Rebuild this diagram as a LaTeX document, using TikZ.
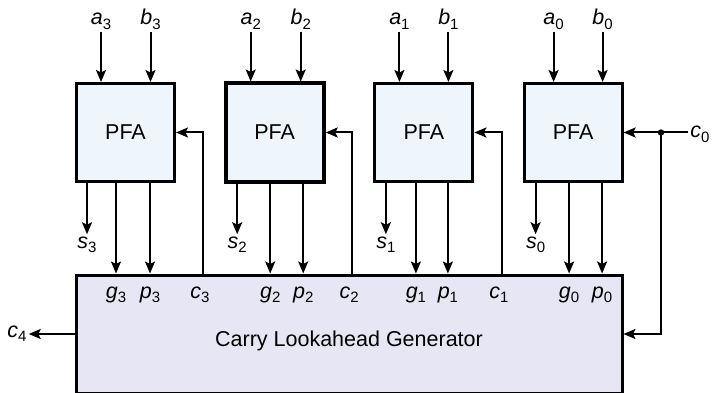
\documentclass[tikz,border=0pt]{standalone}
\usepackage{fontspec}
\setmainfont{Liberation Sans}
\usetikzlibrary{
  arrows.meta, % Stealth 箭头
  positioning  % 节点相对定位
}
\definecolor{pfafill}{HTML}{EEF5FB} % PFA 方框底色
\definecolor{clgfill}{HTML}{E6E6F5} % 超前进位生成器底色
\newcommand{\sigl}[2]{\textit{#1}\raisebox{-4.5pt}{\fontsize{15}{15}\selectfont #2}} % 斜体信号名加下标
\tikzset{
  pfa/.style={draw, fill=pfafill, line width=3pt, minimum width=98pt, minimum height=98pt, inner sep=0pt},
  clgbox/.style={draw, fill=clgfill, line width=3pt, minimum width=546pt, minimum height=118pt, inner sep=0pt},
  sigline/.style={line width=2pt},
  lbl/.style={inner sep=2pt, anchor=base}
}

\begin{document}
\begin{tikzpicture}[x=1pt, y=-1pt, >={Stealth[length=12pt, width=10pt, inset=2.5pt]}, font=\fontsize{21.5}{25}\selectfont] % 以像素为单位，y 轴向下
  \useasboundingbox (0,0) rectangle (712,393); % 固定画面大小

  % 超前进位生成器
  \node[clgbox] (clg) at (349,334) {}; % 下方大方框
  \node (clgtxt) at (349,341) {Carry Lookahead Generator}; % 方框内文字

  % 第 3 位
  \begin{scope}[shift={(125.5,0)}]
    \node[pfa] (pfa3) at (0,132.5) {PFA};
    \node[lbl] (a3) at (-24.5,25) {\sigl{a}{3}};
    \node[lbl] (b3) at (25,25) {\sigl{b}{3}};
    \draw[sigline, ->] (a3) -- (a3 |- pfa3.north); % 输入 a
    \draw[sigline, ->] (b3) -- (b3 |- pfa3.north); % 输入 b
    \node[lbl] (s3) at (-38.5,248) {\sigl{s}{3}};
    \draw[sigline, ->] (s3 |- pfa3.south) -- (s3); % 和输出
    \node[lbl] (g3) at (-9.5,298) {\sigl{g}{3}};
    \node[lbl] (p3) at (24.5,298) {\sigl{p}{3}};
    \node[lbl] (c3) at (74.5,298) {\sigl{c}{3}};
    \draw[sigline, ->] (g3 |- pfa3.south) -- (g3 |- clg.north); % 生成信号
    \draw[sigline, ->] (p3 |- pfa3.south) -- (p3 |- clg.north); % 传播信号
    \coordinate (cr3) at (77.5,132.5);
    \draw[sigline, ->] (cr3 |- clg.north) -- (cr3) -- (pfa3.east); % 进位回送
  \end{scope}

  % 第 2 位
  \begin{scope}[shift={(274.7,0)}]
    \node[pfa, line width=4pt] (pfa2) at (0,132.5) {PFA};
    \node[lbl] (a2) at (-24,25) {\sigl{a}{2}};
    \node[lbl] (b2) at (26,25) {\sigl{b}{2}};
    \draw[sigline, ->] (a2) -- (a2 |- pfa2.north);
    \draw[sigline, ->] (b2) -- (b2 |- pfa2.north);
    \node[lbl] (s2) at (-37.5,248) {\sigl{s}{2}};
    \draw[sigline, ->] (s2 |- pfa2.south) -- (s2);
    \node[lbl] (g2) at (-4.5,298) {\sigl{g}{2}};
    \node[lbl] (p2) at (28.5,298) {\sigl{p}{2}};
    \node[lbl] (c2) at (74.5,298) {\sigl{c}{2}};
    \draw[sigline, ->] (g2 |- pfa2.south) -- (g2 |- clg.north);
    \draw[sigline, ->] (p2 |- pfa2.south) -- (p2 |- clg.north);
    \coordinate (cr2) at (77.5,132.5);
    \draw[sigline, ->] (cr2 |- clg.north) -- (cr2) -- (pfa2.east);
  \end{scope}

  % 第 1 位
  \begin{scope}[shift={(423.9,0)}]
    \node[pfa] (pfa1) at (0,132.5) {PFA};
    \node[lbl] (a1) at (-24.5,25) {\sigl{a}{1}};
    \node[lbl] (b1) at (24.5,25) {\sigl{b}{1}};
    \draw[sigline, ->] (a1) -- (a1 |- pfa1.north);
    \draw[sigline, ->] (b1) -- (b1 |- pfa1.north);
    \node[lbl] (s1) at (-38,248) {\sigl{s}{1}};
    \draw[sigline, ->] (s1 |- pfa1.south) -- (s1);
    \node[lbl] (g1) at (-8,298) {\sigl{g}{1}};
    \node[lbl] (p1) at (24,298) {\sigl{p}{1}};
    \node[lbl] (c1) at (75,298) {\sigl{c}{1}};
    \draw[sigline, ->] (g1 |- pfa1.south) -- (g1 |- clg.north);
    \draw[sigline, ->] (p1 |- pfa1.south) -- (p1 |- clg.north);
    \coordinate (cr1) at (78,132.5);
    \draw[sigline, ->] (cr1 |- clg.north) -- (cr1) -- (pfa1.east);
  \end{scope}

  % 第 0 位
  \begin{scope}[shift={(573.1,0)}]
    \node[pfa] (pfa0) at (0,132.5) {PFA};
    \node[lbl] (a0) at (-19.5,25) {\sigl{a}{0}};
    \node[lbl] (b0) at (29.5,25) {\sigl{b}{0}};
    \draw[sigline, ->] (a0) -- (a0 |- pfa0.north);
    \draw[sigline, ->] (b0) -- (b0 |- pfa0.north);
    \node[lbl] (s0) at (-37.5,248) {\sigl{s}{0}};
    \draw[sigline, ->] (s0 |- pfa0.south) -- (s0);
    \node[lbl] (g0) at (-4,298) {\sigl{g}{0}};
    \node[lbl] (p0) at (29,298) {\sigl{p}{0}};
    \draw[sigline, ->] (g0 |- pfa0.south) -- (g0 |- clg.north);
    \draw[sigline, ->] (p0 |- pfa0.south) -- (p0 |- clg.north);
  \end{scope}

  % 进位输入 c0 与输出 c4
  \node[lbl] (c0) at (700,138) {\sigl{c}{0}};
  \coordinate (j0) at (661,132.5);
  \draw[sigline, ->] (pfa0.east -| c0.west) -- (pfa0.east); % c0 送入第 0 位
  \fill (j0) circle (3.2pt); % 分支点
  \draw[sigline, ->] (j0) |- (clg.east); % c0 同时送入生成器
  \node[lbl] (c4) at (17,337) {\sigl{c}{4}};
  \draw[sigline, ->] (clg.west) -- (c4.east |- clg.west); % 最高位进位输出
\end{tikzpicture}
\end{document}
